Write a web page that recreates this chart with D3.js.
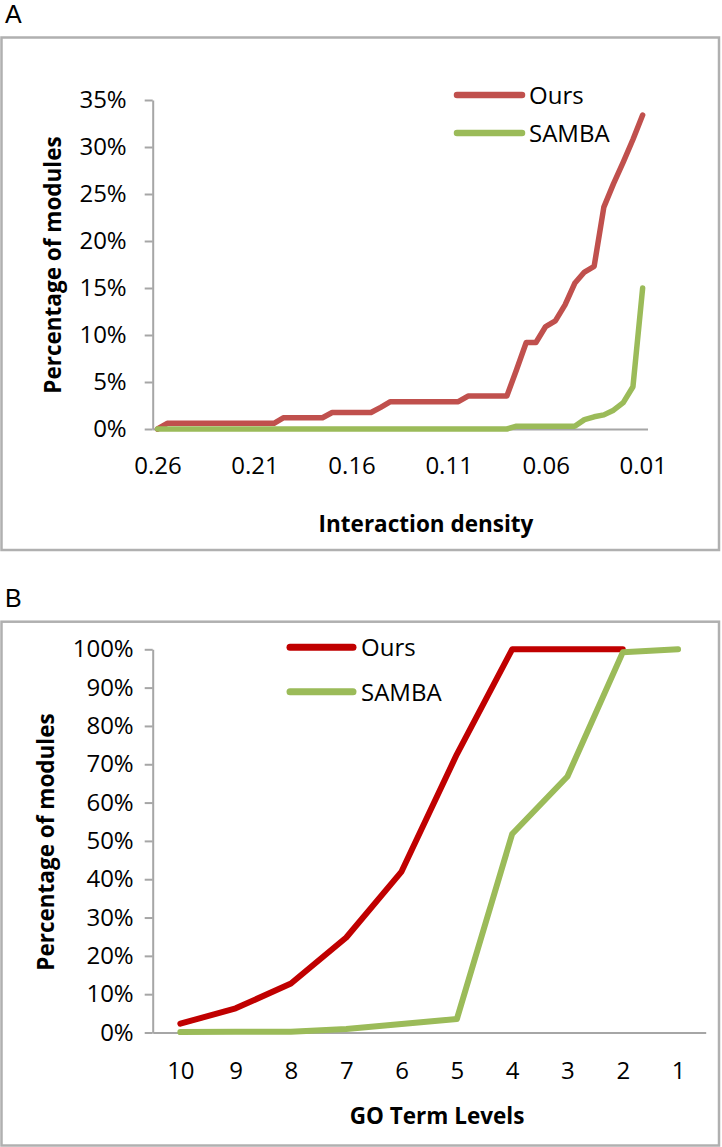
<!DOCTYPE html>
<html><head><meta charset="utf-8">
<script src="https://cdn.jsdelivr.net/npm/d3@7"></script>
<style>
body{margin:0;background:#fff}
svg{display:block}
</style>
</head><body>
<svg id="chart" width="722" height="1147"></svg>
<script>
// ---------- Panel A data ----------
const densityCategories = ["0.26","0.255","0.25","0.245","0.24","0.235","0.23","0.225","0.22","0.215",
  "0.21","0.205","0.2","0.195","0.19","0.185","0.18","0.175","0.17","0.165",
  "0.16","0.155","0.15","0.145","0.14","0.135","0.13","0.125","0.12","0.115",
  "0.11","0.105","0.1","0.095","0.09","0.085","0.08","0.075","0.07","0.065",
  "0.06","0.055","0.05","0.045","0.04","0.035","0.03","0.025","0.02","0.015","0.01"];
const densityTickLabels = ["0.26","0.21","0.16","0.11","0.06","0.01"];
const densityYTicks = [0,5,10,15,20,25,30,35];
const oursDensity = [0,
  0.6,0.6,0.6,0.6,0.6,0.6,0.6,0.6,0.6,0.6,0.6,0.6,
  1.2,1.2,1.2,1.2,1.2,
  1.75,1.75,1.75,1.75,1.75,
  2.3,
  2.9,2.9,2.9,2.9,2.9,2.9,2.9,2.9,
  3.5,3.5,3.5,3.5,3.5,
  6.3,
  9.2,9.2,10.9,11.5,13.2,15.5,16.7,17.3,23.6,26.1,28.4,30.8,33.4];
const sambaDensity = [0,0,0,0,0,0,0,0,0,0,0,0,0,0,0,0,0,0,0,0,0,0,0,0,0,0,0,0,0,0,0,0,0,0,0,0,0,
  0.3,0.3,0.3,0.3,0.3,0.3,0.3,
  1.0,1.3,1.5,2.0,2.8,4.5,15.0];

// ---------- Panel B data ----------
const goLevels = ["10","9","8","7","6","5","4","3","2","1"];
const goYTicks = [0,10,20,30,40,50,60,70,80,90,100];
const oursGO = [2.3,6.3,12.8,24.8,42.0,72.6,100,100,100,null];
const sambaGO = [0.1,0.2,0.2,0.9,2.2,3.5,51.8,66.8,99.2,100];

const seriesNames = ["Ours","SAMBA"];

const FONT = "'Open Sans', sans-serif";
const GRAY = "#a6a6a6";
const svg = d3.select("#chart");

function panel(o){
  const g = svg.append("g");
  // frame
  g.append("rect").attr("x",o.frame[0]).attr("y",o.frame[1])
    .attr("width",o.frame[2]-o.frame[0]).attr("height",o.frame[3]-o.frame[1])
    .attr("fill","none").attr("stroke","#b0b0b0").attr("stroke-width",2.5);
  g.append("text").attr("x",o.letterPos[0]).attr("y",o.letterPos[1])
    .attr("font-family","'Liberation Sans', Arial, sans-serif").attr("font-size",25).text(o.letter);

  const x = d3.scalePoint().domain(o.cats).range([o.x0,o.x1]).padding(0.5);
  const y = d3.scaleLinear().domain([0,o.ymax]).range([o.yb,o.yt]);

  const ya = g.append("g").attr("transform",`translate(${o.x0},0)`)
    .call(d3.axisLeft(y).tickValues(o.yticks).tickSize(8).tickSizeOuter(0).tickPadding(o.ypad).tickFormat(d=>d+"%"));
  ya.attr("font-family",FONT).attr("font-size",24).attr("color","#000");
  ya.select(".domain").attr("stroke",GRAY).attr("stroke-width",2);
  ya.selectAll(".tick line").attr("stroke",GRAY).attr("stroke-width",2);

  const xa = g.append("g").attr("transform",`translate(0,${o.yb})`)
    .call(d3.axisBottom(x).tickValues(o.xticks).tickSize(0).tickSizeOuter(0));
  xa.attr("font-family",FONT).attr("font-size",24).attr("color","#000");
  xa.select(".domain").attr("stroke",GRAY).attr("stroke-width",2);
  xa.selectAll(".tick text").attr("y",o.xlabY).attr("dy","0");

  // titles
  g.append("text").attr("x",o.xTitle[0]).attr("y",o.xTitle[1]).attr("text-anchor","middle")
    .attr("font-family",FONT).attr("font-weight","bold").attr("font-size",22.5).text(o.xTitleText);
  g.append("text").attr("transform",`translate(${o.yTitle[0]},${o.yTitle[1]}) rotate(-90)`)
    .attr("text-anchor","middle")
    .attr("font-family",FONT).attr("font-weight","bold").attr("font-size",22.5).text("Percentage of modules");

  const line = d3.line().defined(d=>d.v!==null).x(d=>x(d.c)).y(d=>y(d.v));
  o.series.forEach((s,i)=>{
    const pts = o.cats.map((c,j)=>({c:c,v:s.values[j]}));
    g.append("path").datum(pts).attr("d",line).attr("fill","none")
      .attr("stroke",s.color).attr("stroke-width",o.lw)
      .attr("stroke-linejoin","round").attr("stroke-linecap","round");
    // legend
    const ly = o.legend.y[i];
    g.append("line").attr("x1",o.legend.x1).attr("x2",o.legend.x2).attr("y1",ly).attr("y2",ly)
      .attr("stroke",s.color).attr("stroke-width",o.lw+1).attr("stroke-linecap","round");
    g.append("text").attr("x",o.legend.tx).attr("y",ly+o.legend.dy)
      .attr("font-family",FONT).attr("font-size",24).text(s.name);
  });
}

panel({
  frame:[1.5,37.5,719,550], letter:"A", letterPos:[5,23],
  cats:densityCategories, xticks:densityTickLabels, yticks:densityYTicks, ymax:35,
  x0:152.7, x1:647.5, yt:100, yb:429, ypad:18, xlabY:45,
  xTitle:[426,532], xTitleText:"Interaction density", yTitle:[61,265],
  lw:5.5,
  series:[{name:seriesNames[0],values:oursDensity,color:"#c0504d"},
          {name:seriesNames[1],values:sambaDensity,color:"#9bbb59"}],
  legend:{x1:457,x2:522,y:[95,133],tx:529,dy:9}
});

panel({
  frame:[1.5,621.7,719,1145.5], letter:"B", letterPos:[5,607],
  cats:goLevels, xticks:goLevels, yticks:goYTicks, ymax:100,
  x0:152.7, x1:705.7, yt:649.3, yb:1032.5, ypad:11, xlabY:46,
  xTitle:[437,1124], xTitleText:"GO Term Levels", yTitle:[54,842],
  lw:6,
  series:[{name:seriesNames[0],values:oursGO,color:"#c00000"},
          {name:seriesNames[1],values:sambaGO,color:"#9bbb59"}],
  legend:{x1:290,x2:353,y:[647.3,691.7],tx:361,dy:9}
});
</script>
</body></html>
